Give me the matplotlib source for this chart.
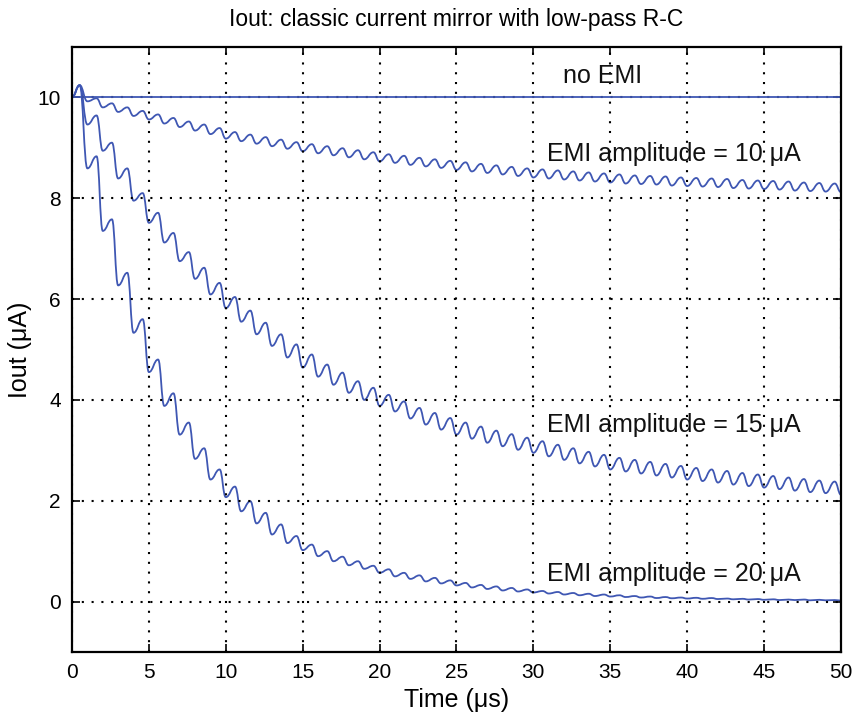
import matplotlib

matplotlib.use("Agg")
import matplotlib.pyplot as plt
import numpy as np
from matplotlib.patches import PathPatch
from matplotlib.path import Path

plt.rcParams["font.family"] = ["Liberation Sans", "DejaVu Sans"]

# start of every EMI trace: (t=0, 10 uA) and the first overshoot at t=0.5 us
start_t = [0.0, 0.5]
start_v = [10.0, 10.24]

# ripple troughs sit at whole microseconds (t = 1..50), peaks at t = n + 0.6 (n = 1..49)
trough_t = np.arange(1, 51)
peak_t = np.arange(1, 50) + 0.6

emi10_troughs = [
    9.92, 9.80, 9.71, 9.63, 9.56, 9.48, 9.41, 9.34, 9.27, 9.18,
    9.13, 9.08, 9.03, 8.98, 8.93, 8.89, 8.85, 8.81, 8.77, 8.73,
    8.70, 8.66, 8.63, 8.60, 8.56, 8.53, 8.50, 8.47, 8.44, 8.41,
    8.39, 8.37, 8.35, 8.33, 8.31, 8.29, 8.28, 8.27, 8.25, 8.24,
    8.23, 8.22, 8.20, 8.19, 8.18, 8.17, 8.15, 8.14, 8.13, 8.12,
]
emi10_peaks = [
    9.98, 9.88, 9.80, 9.73, 9.66, 9.59, 9.52, 9.46, 9.39, 9.31,
    9.26, 9.21, 9.16, 9.11, 9.07, 9.03, 8.99, 8.95, 8.91, 8.87,
    8.84, 8.80, 8.77, 8.74, 8.71, 8.68, 8.65, 8.62, 8.59, 8.57,
    8.55, 8.53, 8.51, 8.49, 8.47, 8.45, 8.44, 8.43, 8.41, 8.40,
    8.39, 8.38, 8.36, 8.35, 8.34, 8.33, 8.31, 8.30, 8.29,
]

emi15_troughs = [
    9.46, 8.94, 8.39, 7.95, 7.51, 7.12, 6.75, 6.40, 6.09, 5.82,
    5.55, 5.30, 5.07, 4.84, 4.64, 4.46, 4.30, 4.14, 4.00, 3.88,
    3.77, 3.63, 3.51, 3.41, 3.31, 3.23, 3.15, 3.08, 3.01, 2.95,
    2.88, 2.81, 2.74, 2.68, 2.62, 2.58, 2.54, 2.50, 2.46, 2.42,
    2.39, 2.36, 2.32, 2.29, 2.26, 2.23, 2.20, 2.17, 2.15, 2.12,
]
emi15_peaks = [
    9.64, 9.10, 8.59, 8.10, 7.71, 7.31, 6.93, 6.62, 6.32, 6.04,
    5.77, 5.53, 5.30, 5.10, 4.90, 4.70, 4.54, 4.37, 4.24, 4.10,
    3.97, 3.84, 3.74, 3.64, 3.55, 3.47, 3.39, 3.32, 3.25, 3.18,
    3.11, 3.04, 2.97, 2.91, 2.85, 2.81, 2.77, 2.73, 2.69, 2.65,
    2.62, 2.59, 2.55, 2.52, 2.49, 2.46, 2.43, 2.40, 2.38,
]

emi20_troughs = [
    8.59, 7.35, 6.27, 5.33, 4.55, 3.88, 3.31, 2.83, 2.42, 2.07,
    1.79, 1.55, 1.33, 1.16, 1.02, 0.90, 0.80, 0.72, 0.65, 0.57,
    0.50, 0.45, 0.40, 0.36, 0.32, 0.28, 0.25, 0.22, 0.20, 0.18,
    0.16, 0.14, 0.125, 0.11, 0.10, 0.09, 0.08, 0.07, 0.065, 0.06,
    0.055, 0.05, 0.045, 0.04, 0.035, 0.03, 0.03, 0.025, 0.025, 0.02,
]
emi20_peaks = [
    8.83, 7.58, 6.52, 5.60, 4.80, 4.13, 3.55, 3.04, 2.62, 2.28,
    1.99, 1.76, 1.53, 1.30, 1.13, 1.00, 0.89, 0.80, 0.71, 0.64,
    0.57, 0.52, 0.47, 0.42, 0.37, 0.33, 0.30, 0.27, 0.24, 0.21,
    0.19, 0.17, 0.155, 0.14, 0.125, 0.11, 0.10, 0.09, 0.08, 0.075,
    0.07, 0.06, 0.055, 0.05, 0.045, 0.04, 0.04, 0.035, 0.03,
]

no_emi_t = [0.0, 50.0]
no_emi_v = [10.0, 10.0]

labels = ["no EMI", "EMI amplitude = 10 μA", "EMI amplitude = 15 μA", "EMI amplitude = 20 μA"]
label_t = [31.9, 30.9, 30.9, 30.9]
label_v = [10.42, 8.87, 3.51, 0.54]

x_ticks = list(range(0, 55, 5))
y_ticks = list(range(0, 12, 2))

LINE = "#3f57b3"


def trace(troughs, peaks):
    t = list(start_t)
    v = list(start_v)
    for i, tt in enumerate(trough_t):
        t.append(tt)
        v.append(troughs[i])
        if i < len(peaks):
            t.append(peak_t[i])
            v.append(peaks[i])
    return t, v


def smooth_path(t, v):
    # cubic segments with flat tangents at each extreme, so the ripple looks rounded
    verts = [(t[0], v[0])]
    codes = [Path.MOVETO]
    for i in range(1, len(t)):
        dt = t[i] - t[i - 1]
        verts += [(t[i - 1] + 0.45 * dt, v[i - 1]), (t[i] - 0.45 * dt, v[i]), (t[i], v[i])]
        codes += [Path.CURVE4] * 3
    return Path(verts, codes)


fig = plt.figure(figsize=(8.52, 7.21), dpi=100, facecolor="white")
ax = fig.add_axes([0.0845, 0.0957, 0.9025, 0.8393])

ax.plot(no_emi_t, no_emi_v, color=LINE, linewidth=1.3)
for troughs, peaks in ((emi10_troughs, emi10_peaks), (emi15_troughs, emi15_peaks), (emi20_troughs, emi20_peaks)):
    t, v = trace(troughs, peaks)
    ax.add_patch(PathPatch(smooth_path(t, v), fill=False, edgecolor=LINE, linewidth=1.3,
                           joinstyle="round", capstyle="round", clip_on=True))

for text, tx, ty in zip(labels, label_t, label_v):
    ax.text(tx, ty, text, fontsize=18, va="center", ha="left", color="#111111",
            family=["Liberation Sans", "DejaVu Sans"])

ax.set_xlim(0, 50)
ax.set_ylim(-1, 11)
ax.set_xticks(x_ticks)
ax.set_yticks(y_ticks)
ax.tick_params(direction="in", length=6, width=1.2, top=True, right=True, labelsize=15, pad=8)
ax.grid(True, color="black", linestyle=(0, (1, 3.7)), linewidth=1.5)
for spine in ax.spines.values():
    spine.set_linewidth(1.6)

ax.set_title("Iout: classic current mirror with low-pass R-C", fontsize=16.5, pad=15)
ax.set_xlabel("Time (μs)", fontsize=18, labelpad=4)
ax.set_ylabel("Iout (μA)", fontsize=18, labelpad=4)

fig.savefig("out.png", dpi=100, facecolor="white")
